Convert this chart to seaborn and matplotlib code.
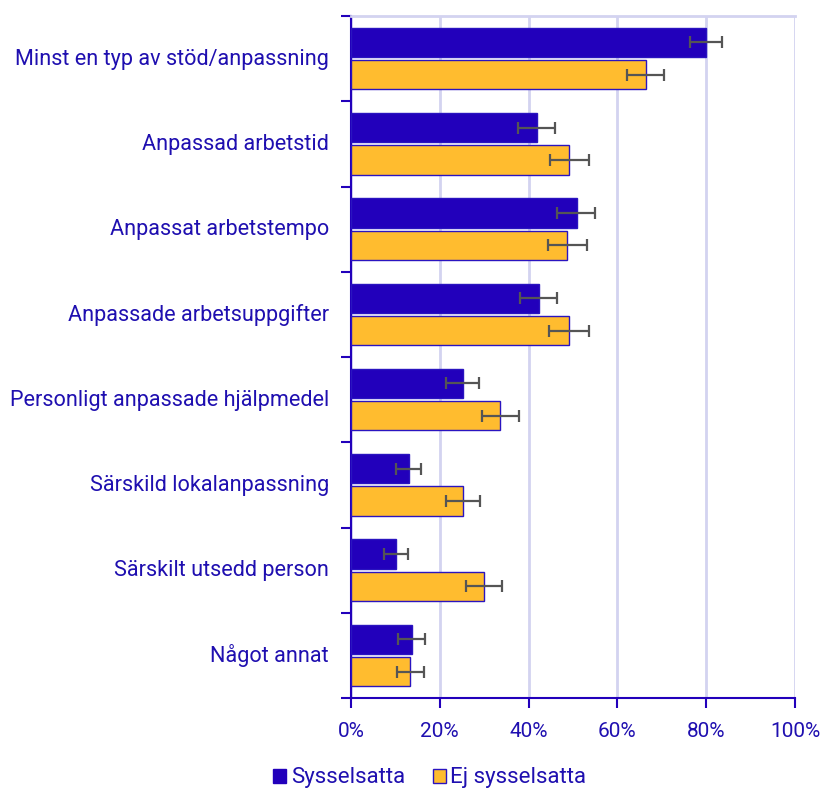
import matplotlib
matplotlib.use("Agg")
import matplotlib.pyplot as plt
import seaborn as sns
import pandas as pd
import numpy as np
from matplotlib.patches import Patch

categories = [
    "Minst en typ av stöd/anpassning",
    "Anpassad arbetstid",
    "Anpassat arbetstempo",
    "Anpassade arbetsuppgifter",
    "Personligt anpassade hjälpmedel",
    "Särskild lokalanpassning",
    "Särskilt utsedd person",
    "Något annat",
]
series_names = ["Sysselsatta", "Ej sysselsatta"]
syss = [80.0, 41.9, 50.8, 42.3, 25.2, 13.1, 10.1, 13.7]
syss_lo = [76.4, 37.6, 46.4, 38.0, 21.5, 10.1, 7.4, 10.6]
syss_hi = [83.5, 46.0, 54.9, 46.4, 28.9, 15.8, 12.9, 16.7]
ej = [66.4, 49.2, 48.7, 49.0, 33.6, 25.3, 30.0, 13.3]
ej_lo = [62.1, 44.8, 44.3, 44.6, 29.5, 21.5, 25.9, 10.3]
ej_hi = [70.6, 53.5, 53.2, 53.5, 37.8, 29.1, 33.9, 16.4]
xticks = [0, 20, 40, 60, 80, 100]
xticklabels = ["0%", "20%", "40%", "60%", "80%", "100%"]

sns.set_style("white")
plt.rcParams["font.family"] = ["Roboto", "DejaVu Sans"]

text_color = "#1F0FB0"
c_syss = "#2200BB"
c_ej = "#FFBC2F"
edge = "#2A14C0"
grid_c = "#D3D3F0"

df = pd.DataFrame({
    "cat": categories * 2,
    "series": [series_names[0]] * len(categories) + [series_names[1]] * len(categories),
    "value": syss + ej,
    "lo": syss_lo + ej_lo,
    "hi": syss_hi + ej_hi,
})

fig = plt.figure(figsize=(8.22, 7.91), dpi=100)
ax = fig.add_axes([351 / 822, 1 - 698 / 791, 444 / 822, 682 / 791])

sns.barplot(data=df, x="value", y="cat", hue="series", orient="h",
            palette=[c_syss, c_ej], saturation=1, width=0.76, gap=0.1, errorbar=None,
            edgecolor=edge, linewidth=1.0, ax=ax, legend=False, zorder=3)

# error bars at bar centers
for cont, (lo, hi, vals) in zip(ax.containers, [(syss_lo, syss_hi, syss), (ej_lo, ej_hi, ej)]):
    ys = [p.get_y() + p.get_height() / 2 for p in cont.patches]
    xerr = [np.array(vals) - np.array(lo), np.array(hi) - np.array(vals)]
    ax.errorbar(vals, ys, xerr=xerr, fmt="none", ecolor="#555555",
                elinewidth=1.6, capsize=4.5, capthick=1.6, zorder=4)

ax.set_xlim(0, 100)
ax.set_ylim(len(categories) - 0.5, -0.5)
ax.set_xticks(xticks)
ax.set_xticklabels(xticklabels)
ax.set_xlabel("")
ax.set_ylabel("")

ax.xaxis.grid(True, color=grid_c, linewidth=2, zorder=0)
ax.set_axisbelow(True)

ax.spines["top"].set_visible(True)
ax.spines["top"].set_color(grid_c)
ax.spines["top"].set_linewidth(2)
ax.spines["right"].set_visible(False)
for s in ["left", "bottom"]:
    ax.spines[s].set_color(c_syss)
    ax.spines[s].set_linewidth(1.5)

ax.tick_params(axis="x", labelcolor=text_color, labelsize=15, length=7, width=1.5,
               direction="out", pad=10, bottom=True, color=c_syss)
ax.tick_params(axis="y", which="major", length=0, labelsize=15.6, labelcolor=text_color, pad=16)
ax.set_yticks(np.arange(-0.5, len(categories) + 0.5, 1), minor=True)
ax.tick_params(axis="y", which="minor", length=7, width=1.5, color=c_syss, direction="out", left=True)
for lbl in ax.get_yticklabels():
    lbl.set_transform(lbl.get_transform() + matplotlib.transforms.ScaledTranslation(0, 2 / 100, fig.dpi_scale_trans))

handles = [Patch(facecolor=c_syss, edgecolor=c_syss, label=series_names[0]),
           Patch(facecolor=c_ej, edgecolor=edge, label=series_names[1])]
fig.legend(handles=handles, loc="center left", bbox_to_anchor=(264 / 822, 13 / 791),
           ncol=2, frameon=False, fontsize=16, labelcolor=text_color,
           handlelength=0.6, handleheight=0.6, handletextpad=0.2, columnspacing=1.25,
           borderaxespad=0)

fig.savefig("out.png", dpi=100)
